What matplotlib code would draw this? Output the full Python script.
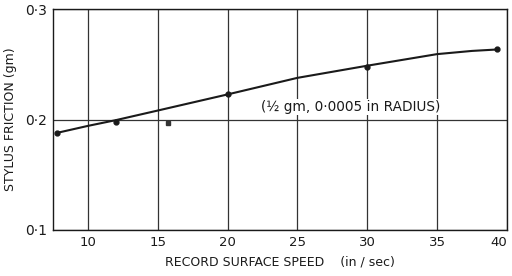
import matplotlib
matplotlib.use("Agg")
import matplotlib.pyplot as plt

# measured points
speed = [7.8, 12, 20, 30, 39.3]
friction = [0.188, 0.1977, 0.2228, 0.2478, 0.2635]

# smooth curve
curve_x = [7.8, 10, 12, 15, 20, 25, 30, 35, 37.5, 39.3]
curve_y = [0.188, 0.1943, 0.1995, 0.2082, 0.2228, 0.2378, 0.2488, 0.2593, 0.2622, 0.2635]

# stray printed mark
stray_x = [15.7]
stray_y = [0.1967]

xticks = [10, 15, 20, 25, 30, 35, 40]
yticks = [0.1, 0.2, 0.3]
ylabels = ["0·1", "0·2", "0·3"]

fig = plt.figure(figsize=(5.12, 2.76), dpi=100)
ax = fig.add_axes([0.1035, 0.1667, 0.8865, 0.8])

ink = "#1a1a1a"
ax.plot(curve_x, curve_y, color=ink, lw=1.5, zorder=3)
ax.plot(speed, friction, "o", color=ink, ms=3.5, zorder=4)
ax.plot(stray_x, stray_y, "s", color="#333333", ms=2.5, zorder=4)

ax.set_xlim(7.5, 40)
ax.set_ylim(0.1, 0.3)
ax.set_xticks(xticks)
ax.set_xticklabels([str(t) for t in xticks], fontsize=9.5, color=ink)
ax.set_yticks(yticks)
ax.set_yticklabels(ylabels, fontsize=10, color=ink)
ax.tick_params(length=0, pad=4)
ax.get_xticklabels()[-1].set_horizontalalignment("right")
ax.get_xticklabels()[-1].set_x(40.3)
ax.grid(True, color="#333333", lw=0.9)
for s in ax.spines.values():
    s.set_color(ink)
    s.set_linewidth(1.0)

ax.set_ylabel("STYLUS FRICTION (gm)", fontsize=9, color=ink, labelpad=6)
ax.set_xlabel("RECORD SURFACE SPEED    (in / sec)", fontsize=9, color=ink, labelpad=5)

ax.text(22.4, 0.2115, "(½ gm, 0·0005 in RADIUS)", fontsize=9.8, color=ink,
        ha="left", va="center",
        bbox=dict(facecolor="white", edgecolor="none", pad=1))

fig.savefig("out.png", dpi=100, facecolor="white")
